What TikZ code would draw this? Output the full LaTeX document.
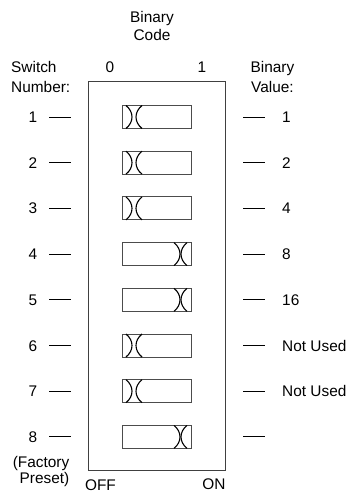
\documentclass[tikz,border=0pt]{standalone}
\usepackage{fontspec}
\setmainfont{Liberation Sans}
\begin{document}
\begin{tikzpicture}[x=1pt, y=-1pt,
  font=\fontsize{15.4}{18}\selectfont,
  lbl/.style={inner sep=0pt, anchor=base},
  frame/.style={draw=black!75, line width=1pt},
  swbox/.style={draw=black!70, line width=0.9pt, minimum width=69pt,
                minimum height=23pt, inner sep=0pt},
  slider/.style={draw=black, line width=1.1pt},
  tick/.style={draw=black, line width=0.9pt}]
\useasboundingbox (0,0) rectangle (348,494);

% column headings
\node[lbl] (bin) at (152,22.5) {Binary};
\node[lbl] (code) at (152,40.5) {Code};
\node[lbl, anchor=base west] (swt) at (11,72.2) {Switch};
\node[lbl, anchor=base west] (num) at (11,92.2) {Number:};
\node[lbl] (zero) at (110,72.2) {0};
\node[lbl] (one) at (202,72.2) {1};
\node[lbl] (bval) at (272.5,72.2) {Binary};
\node[lbl] (val) at (272.5,92.2) {Value:};

% DIP switch housing
\draw[frame] (88,82) rectangle (225,470);

% the eight switches: number / slider left end / slider right end
\foreach \i/\xa/\xb in {1/126/142, 2/126/142, 3/126/142, 4/174/187,
                        5/174/187, 6/126/142, 7/126/142, 8/174/187} {
  \pgfmathsetmacro{\y}{117+(\i-1)*45.7}
  \node[swbox] (sw\i) at (156.5,\y) {};
  \draw[slider] (\xa,{\y-11.5}) .. controls ({\xa+8},{\y-5}) and ({\xa+8},{\y+5}) .. (\xa,{\y+11.5});
  \draw[slider] (\xb,{\y-11.5}) .. controls ({\xb-8},{\y-5}) and ({\xb-8},{\y+5}) .. (\xb,{\y+11.5});
  \coordinate (lt\i) at (49,\y);
  \coordinate (rt\i) at (243,\y);
  \draw[tick] (lt\i) -- ++(22,0);
  \draw[tick] (rt\i) -- ++(22,0);
  \node[lbl, anchor=base east] (n\i) at (37.5,{\y+5.5}) {\i};
}

% binary values
\foreach \i/\v in {1/1, 2/2, 3/4, 4/8, 5/16, 6/Not Used, 7/Not Used} {
  \pgfmathsetmacro{\y}{117+(\i-1)*45.7}
  \node[lbl, anchor=base west] (v\i) at (282,{\y+5.5}) {\v};
}

% footnotes
\node[lbl, anchor=base east] (fac) at (69.5,467) {(Factory};
\node[lbl, anchor=base east] (pre) at (69.5,483) {Preset)};
\node[lbl] (off) at (100.5,490.5) {OFF};
\node[lbl] (on) at (214,489.5) {ON};
\end{tikzpicture}
\end{document}
